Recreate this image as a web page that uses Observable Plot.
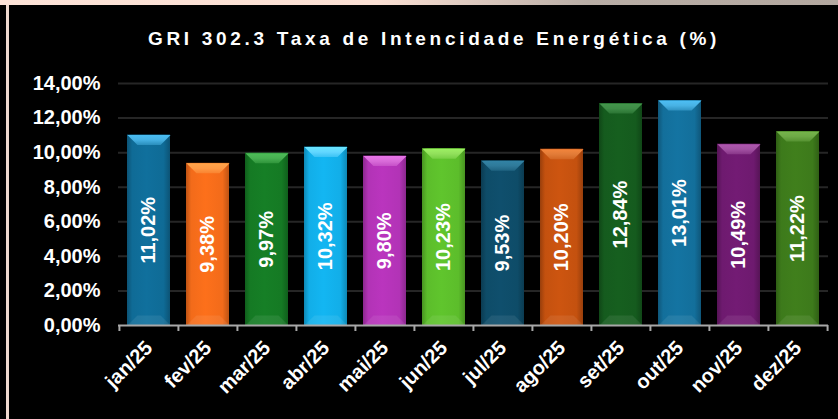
<!DOCTYPE html>
<html><head><meta charset="utf-8">
<script src="https://cdn.jsdelivr.net/npm/d3@7"></script>
<script src="https://cdn.jsdelivr.net/npm/@observablehq/plot@0.6"></script>
<style>
html,body{margin:0;padding:0;background:#000;width:838px;height:419px;overflow:hidden;}
#wrap{position:relative;width:838px;height:419px;background:#000;overflow:hidden;font-family:"Liberation Sans",Arial,sans-serif;}
#topstrip{position:absolute;left:0;top:0;width:838px;height:5px;background:linear-gradient(90deg,#fde3d8 0%,#fbe0d4 45%,#b9aea6 70%,#b3a8a0 100%);z-index:2;}
#leftline{position:absolute;left:6px;top:5px;width:3px;height:414px;background:#efd9cf;z-index:2;}
#title{position:absolute;left:434px;top:29px;transform:translateX(-50%);white-space:nowrap;color:#fff;font-weight:bold;font-size:19px;line-height:19px;letter-spacing:3.7px;z-index:2;}
#chart{position:absolute;left:0;top:0;}
</style>
</head><body>
<div id="wrap">
  <div id="topstrip"></div>
  <div id="leftline"></div>
  <div id="title">GRI 302.3 Taxa de Intencidade Energética (%)</div>
  <div id="chart"></div>
</div>
<script>
const months = ["jan/25","fev/25","mar/25","abr/25","mai/25","jun/25","jul/25","ago/25","set/25","out/25","nov/25","dez/25"];
const values = [11.02, 9.38, 9.97, 10.32, 9.80, 10.23, 9.53, 10.20, 12.84, 13.01, 10.49, 11.22];
const yTicks = [0, 2, 4, 6, 8, 10, 12, 14];
const barColors = ["#0f6b96","#f26b1a","#157a24","#12aee8","#b233b6","#5cbd2b","#0e4c68","#c4510f","#155b1e","#136f9b","#6e1a6f","#3d7a1b"];
const bevelColors = ["#45b0e2","#ff9a45","#48b052","#62d6ff","#d96cd9","#92e05c","#2f7a9a","#e27c38","#3f8c47","#48b2e4","#a352a3","#6da946"];

const data = months.map((m, i) => ({month: m, value: values[i], i}));
const fmt = v => v.toFixed(2).replace(".", ",") + "%";

const W = 838, H = 419, ML = 118, MR = 10, MT = 83, MB = 94;
const step = (W - ML - MR) / months.length;
const inset = 8;
const hw = (step - 2 * inset) / 2;
const bev = 10;
const topSym = {draw(ctx) { ctx.moveTo(-hw, 0); ctx.lineTo(hw, 0); ctx.lineTo(hw - bev, bev); ctx.lineTo(-hw + bev, bev); ctx.closePath(); }};
const botSym = {draw(ctx) { ctx.moveTo(-hw, 0); ctx.lineTo(hw, 0); ctx.lineTo(hw - bev, -bev); ctx.lineTo(-hw + bev, -bev); ctx.closePath(); }};

const chart = Plot.plot({
  width: W, height: H,
  marginLeft: ML, marginRight: MR, marginTop: MT, marginBottom: MB,
  style: {background: "transparent", fontFamily: "'Liberation Sans', Arial, sans-serif", color: "#fff"},
  x: {type: "band", domain: months, padding: 0, label: null},
  y: {domain: [0, 14], label: null},
  color: {type: "identity"},
  marks: [
    Plot.ruleY(yTicks.filter(t => t > 0), {stroke: "#262626", strokeWidth: 2}),
    Plot.barY(data, {x: "month", y: "value", insetLeft: inset, insetRight: inset, fill: d => `url(#bar${d.i})`}),
    Plot.dot(data, {x: "month", y: "value", symbol: topSym, r: 3, fill: d => `url(#top${d.i})`, stroke: null}),
    Plot.dot(data, {x: "month", y: () => 0, symbol: botSym, r: 3, fill: "rgba(255,255,255,0.08)", stroke: null}),
    Plot.ruleY([0], {stroke: "#a8a8a8", strokeWidth: 2}),
    Plot.ruleX(months, {x: d => d, y1: 0, y2: 0, insetBottom: -6, dx: -step / 2, stroke: "#a8a8a8", strokeWidth: 2}),
    Plot.ruleX(months.slice(-1), {x: d => d, y1: 0, y2: 0, insetBottom: -6, dx: step / 2, stroke: "#a8a8a8", strokeWidth: 2}),
    Plot.text(data, {x: "month", y: d => d.value / 2, text: d => fmt(d.value), rotate: -90, fill: "#fff", fontSize: 20, fontWeight: "bold"}),
    Plot.axisY({ticks: yTicks, tickSize: 0, tickPadding: 18, tickFormat: fmt, fontSize: 20, fontWeight: "bold", fill: "#fff", label: null}),
    Plot.axisX({tickSize: 0, tickPadding: 19, tickRotate: -45, fontSize: 20, fontWeight: "bold", fill: "#fff", label: null})
  ]
});

const svg = d3.select(chart);
const defs = svg.insert("defs", ":first-child");
barColors.forEach((c, i) => {
  const base = d3.color(c);
  const g = defs.append("linearGradient").attr("id", `bar${i}`).attr("x1", 0).attr("y1", 0).attr("x2", 1).attr("y2", 0);
  [[0, base.darker(0.7)], [0.12, base], [0.45, base.brighter(0.12)], [0.85, base], [1, base.darker(0.7)]].forEach(([o, col]) => {
    g.append("stop").attr("offset", o).attr("stop-color", col.formatHex());
  });
  const t = defs.append("linearGradient").attr("id", `top${i}`).attr("x1", 0).attr("y1", 0).attr("x2", 0).attr("y2", 1);
  const b = d3.color(bevelColors[i]);
  [[0, b.brighter(0.2)], [0.5, b], [1, d3.interpolateRgb(b, base)(0.5)]].forEach(([o, col]) => {
    t.append("stop").attr("offset", o).attr("stop-color", d3.color(col).formatHex());
  });
});
document.getElementById("chart").appendChild(chart);
</script>
</body></html>
